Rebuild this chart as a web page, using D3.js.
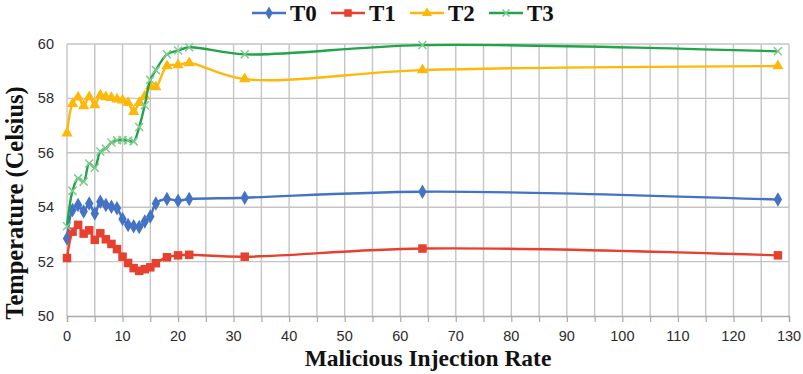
<!DOCTYPE html>
<html>
<head>
<meta charset="utf-8">
<script src="https://cdn.jsdelivr.net/npm/d3@7"></script>
<style>
  html, body { margin: 0; padding: 0; background: #fff; }
  svg { display: block; }
</style>
</head>
<body>
<svg id="chart" width="803" height="374"></svg>
<script>
// Injection rates on the x axis
const rates = [0, 1, 2, 3, 4, 5, 6, 7, 8, 9, 10, 11, 12, 13, 14, 15, 16, 18, 20, 22, 32, 64, 128];

// Temperatures (Celsius) per sensor
const t0 = [52.85, 53.9, 54.08, 53.84, 54.14, 53.77, 54.2, 54.08, 54.02, 53.96, 53.57, 53.35, 53.3, 53.27, 53.47, 53.66, 54.14, 54.3, 54.24, 54.3, 54.35, 54.57, 54.28];
const t1 = [52.13, 53.1, 53.35, 53.03, 53.15, 52.8, 53.04, 52.82, 52.65, 52.46, 52.18, 51.95, 51.76, 51.66, 51.72, 51.79, 51.94, 52.16, 52.23, 52.25, 52.18, 52.48, 52.23];
const t2 = [56.72, 57.8, 58.04, 57.72, 58.05, 57.76, 58.12, 58.05, 58.02, 57.97, 57.93, 57.84, 57.51, 57.84, 58.08, 58.45, 58.42, 59.19, 59.23, 59.3, 58.71, 59.04, 59.19];
const t3 = [53.3, 54.6, 55.06, 54.94, 55.61, 55.45, 56.05, 56.16, 56.38, 56.46, 56.47, 56.45, 56.42, 56.95, 57.75, 58.68, 59.04, 59.62, 59.76, 59.88, 59.62, 59.96, 59.73];

const seriesNames = ["T0", "T1", "T2", "T3"];
const seriesValues = [t0, t1, t2, t3];

// Axis ticks
const xTicks = [0, 10, 20, 30, 40, 50, 60, 70, 80, 90, 100, 110, 120, 130];
const xMinorTicks = d3.range(0, 131, 5);
const yTicks = [50, 52, 54, 56, 58, 60];

const styles = [
  { color: "#4472C4", marker: "diamond", markColor: "#4472C4" },
  { color: "#E8402F", marker: "square", markColor: "#E8402F" },
  { color: "#FFB80A", marker: "triangle", markColor: "#FFB80A" },
  { color: "#21A548", marker: "cross", markColor: "#7FCB8E" }
];

const svg = d3.select("#chart");
const plot = { left: 67, right: 789, top: 44, bottom: 316 };

const x = d3.scaleLinear().domain([0, 130]).range([plot.left, plot.right]);
const y = d3.scaleLinear().domain([50, 60]).range([plot.bottom, plot.top]);

// Gridlines
const grid = svg.append("g").attr("stroke", "#C4C4C4").attr("stroke-width", 1.4);
grid.selectAll("line.h").data(yTicks.filter(d => d > 50)).join("line")
  .attr("x1", plot.left).attr("x2", plot.right)
  .attr("y1", d => y(d)).attr("y2", d => y(d));
grid.selectAll("line.v").data(xMinorTicks).join("line")
  .attr("x1", d => x(d)).attr("x2", d => x(d))
  .attr("y1", plot.top).attr("y2", plot.bottom);

// X axis
const xAxis = svg.append("g")
  .attr("transform", `translate(0,${plot.bottom})`)
  .call(d3.axisBottom(x).tickValues(xMinorTicks).tickSize(6).tickFormat(""));
xAxis.select(".domain").attr("stroke", "#A8A8A8").attr("stroke-width", 1.4);
xAxis.selectAll(".tick line").attr("stroke", "#A8A8A8").attr("stroke-width", 1.2);

svg.append("g").selectAll("text").data(xTicks).join("text")
  .attr("x", d => x(d)).attr("y", 341)
  .attr("text-anchor", "middle")
  .attr("font-family", "Liberation Sans, Arial, sans-serif")
  .attr("font-size", 14.5).attr("fill", "#2b2b2b")
  .text(d => d);

// Y axis labels
svg.append("g").selectAll("text").data(yTicks).join("text")
  .attr("x", 54).attr("y", d => y(d) + 5)
  .attr("text-anchor", "end")
  .attr("font-family", "Liberation Sans, Arial, sans-serif")
  .attr("font-size", 14.5).attr("fill", "#2b2b2b")
  .text(d => d);

// Axis titles
svg.append("text")
  .attr("x", 428).attr("y", 366)
  .attr("text-anchor", "middle")
  .attr("font-family", "Liberation Serif, Times New Roman, serif")
  .attr("font-weight", "bold").attr("font-size", 23.5).attr("fill", "#111")
  .text("Malicious Injection Rate");

svg.append("text")
  .attr("transform", "translate(23,203) rotate(-90)")
  .attr("text-anchor", "middle")
  .attr("font-family", "Liberation Serif, Times New Roman, serif")
  .attr("font-weight", "bold").attr("font-size", 24.5).attr("fill", "#111")
  .text("Temperature (Celsius)");

// Marker shapes
function drawMarker(g, type, color, size) {
  if (type === "diamond") {
    g.append("path").attr("d", d3.symbol(d3.symbolDiamond, size * size * 0.75)())
      .attr("fill", color);
  } else if (type === "square") {
    g.append("rect").attr("x", -size / 2).attr("y", -size / 2)
      .attr("width", size).attr("height", size).attr("fill", color);
  } else if (type === "triangle") {
    g.append("path").attr("d", d3.symbol(d3.symbolTriangle, size * size * 0.55)())
      .attr("fill", color);
  } else if (type === "cross") {
    const h = size / 2;
    g.append("path").attr("d", `M${-h},${-h}L${h},${h}M${-h},${h}L${h},${-h}`)
      .attr("stroke", color).attr("stroke-width", 1.5).attr("fill", "none");
  }
}

const markerSize = [9, 8.5, 10, 8];

// Series
const line = d3.line().curve(d3.curveCatmullRom.alpha(0.5))
  .x(d => x(d[0])).y(d => y(d[1]));

seriesValues.forEach((vals, i) => {
  const pts = rates.map((r, k) => [r, vals[k]]);
  const g = svg.append("g");
  g.append("path").datum(pts)
    .attr("d", line)
    .attr("fill", "none")
    .attr("stroke", styles[i].color)
    .attr("stroke-width", 2.4);
  g.selectAll("g.m").data(pts).join("g")
    .attr("transform", d => `translate(${x(d[0])},${y(d[1])})`)
    .each(function () { drawMarker(d3.select(this), styles[i].marker, styles[i].markColor, markerSize[i]); });
});

// Legend
const legendX = [252, 331, 410, 489];
const legend = svg.append("g");
seriesNames.forEach((name, i) => {
  const lg = legend.append("g").attr("transform", `translate(${legendX[i]},13)`);
  lg.append("line").attr("x1", 0).attr("x2", 34).attr("y1", 0).attr("y2", 0)
    .attr("stroke", styles[i].color).attr("stroke-width", 2.4);
  const m = lg.append("g").attr("transform", "translate(17,0)");
  drawMarker(m, styles[i].marker, styles[i].markColor, markerSize[i] - 1);
  lg.append("text").attr("x", 38).attr("y", 8)
    .attr("font-family", "Liberation Serif, Times New Roman, serif")
    .attr("font-weight", "bold").attr("font-size", 23).attr("fill", "#111")
    .text(name);
});
</script>
</body>
</html>
